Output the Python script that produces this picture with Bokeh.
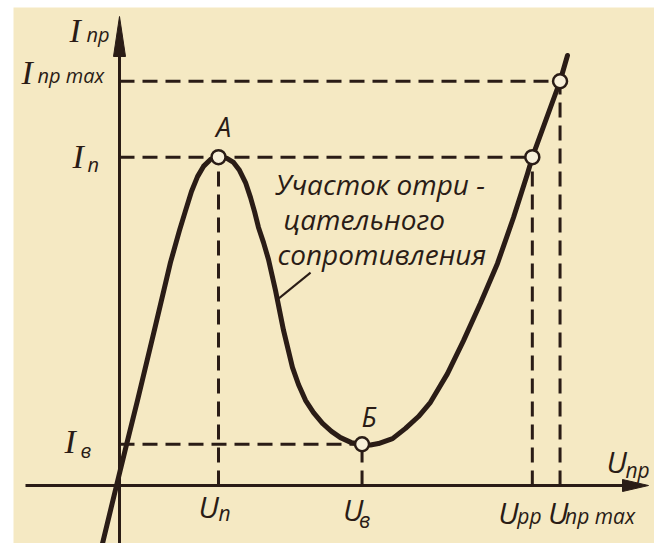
import numpy as np
from bokeh.plotting import figure
from bokeh.models import Range1d, ColumnDataSource
from bokeh.core.properties import value
from bokeh.embed import file_html
from bokeh.resources import INLINE

# Tunnel diode forward characteristic, arbitrary units
U_P = 1.0      # peak voltage U_п
U_V = 2.45     # valley voltage U_в
U_RR = 4.17    # U_рр
U_MAX = 4.45   # U_пр max
I_P = 0.995    # peak current I_п
I_V = 0.125    # valley current I_в
I_MAX = 1.225  # I_пр max

curve_u = [-0.172, -0.03, 0.061, 0.182, 0.364, 0.515, 0.606, 0.667, 0.727, 0.788,
           0.848, 0.919, 1.0, 1.081, 1.152, 1.212, 1.273, 1.323, 1.364, 1.404,
           1.455, 1.505, 1.576, 1.657, 1.747, 1.808, 1.879, 1.96, 2.051, 2.141,
           2.232, 2.343, 2.45, 2.535, 2.616, 2.758, 2.889, 3.02, 3.141, 3.313,
           3.475, 3.646, 3.818, 3.98, 4.121, 4.17, 4.45, 4.525]
curve_i = [-0.176, 0.0, 0.112, 0.258, 0.485, 0.676, 0.773, 0.833, 0.891, 0.936,
           0.967, 0.988, 0.995, 0.992, 0.979, 0.955, 0.918, 0.873, 0.83, 0.782,
           0.736, 0.685, 0.591, 0.47, 0.358, 0.306, 0.258, 0.221, 0.188, 0.164,
           0.145, 0.13, 0.125, 0.123, 0.127, 0.142, 0.173, 0.209, 0.252, 0.339,
           0.439, 0.552, 0.673, 0.812, 0.945, 0.995, 1.225, 1.303]

PAPER = "#f5e9c3"
INK = "#2a1c16"
SANS = value("Open Sans")
SERIF = value("Liberation Serif")

# screen scale: pixels per unit of U and of I, origin position in the window
PX_U, PX_I = 99.0, 330.0
OX, OY = 119.0, 485.0
W, H = 654, 543
LEFT, TOP = 13, 7

p = figure(width=W, height=H,
           x_range=Range1d(-(OX - LEFT) / PX_U, (W - OX) / PX_U),
           y_range=Range1d(-(H - OY) / PX_I, (OY - TOP) / PX_I),
           output_backend="svg", toolbar_location=None,
           x_axis_location=None, y_axis_location=None,
           min_border_left=LEFT, min_border_top=TOP,
           min_border_right=0, min_border_bottom=0,
           background_fill_color=PAPER, border_fill_color="white",
           outline_line_color=None)
p.grid.visible = False

# axes with arrow heads
Y_TIP = (OY - 16) / PX_I
X_TIP = (648 - OX) / PX_U
X_START = (25 - OX) / PX_U
Y_START = -(H - OY) / PX_I
HEAD_Y = 40 / PX_I
HEAD_X = 26 / PX_U
p.segment(x0=[0, X_START], y0=[Y_START, 0], x1=[0, X_TIP - HEAD_X * 0.5],
          y1=[Y_TIP - HEAD_Y * 0.5, 0], line_color=INK, line_width=3)
p.patch([0, -6 / PX_U, 6 / PX_U], [Y_TIP, Y_TIP - HEAD_Y, Y_TIP - HEAD_Y],
        fill_color=INK, line_color=INK, line_width=1)
p.patch([X_TIP, X_TIP - HEAD_X, X_TIP - HEAD_X], [0, 6 / PX_I, -6 / PX_I],
        fill_color=INK, line_color=INK, line_width=1)

# dashed projection lines
dash = ColumnDataSource(dict(
    x0=[0, 0, 0, U_P, U_V, U_RR, U_MAX],
    y0=[I_MAX, I_P, I_V, 0, 0, 0, 0],
    x1=[U_MAX, U_RR, U_V, U_P, U_V, U_RR, U_MAX],
    y1=[I_MAX, I_P, I_V, I_P, I_V, I_P, I_MAX],
))
p.segment(x0="x0", y0="y0", x1="x1", y1="y1", source=dash,
          line_color=INK, line_width=3, line_dash="15 8")

# characteristic curve
p.line(curve_u, curve_i, line_color=INK, line_width=5,
       line_join="round", line_cap="round")

# leader from the annotation to the falling branch
p.segment(x0=[1.93], y0=[0.645], x1=[1.61], y1=[0.567], line_color=INK, line_width=2)

# marked points
p.scatter([U_P, U_V, U_RR, U_MAX], [I_P, I_V, I_P, I_MAX], size=14,
          fill_color="#f8f0da", line_color=INK, line_width=2.5)


def put_labels(rows, font, main_size, sub_size):
    # rows: anchor x, anchor y, main, dx, dy, sub, sdx, sdy (pixel offsets)
    ax = [r[0] for r in rows]
    ay = [r[1] for r in rows]
    p.text(x=ax, y=ay, text=[r[2] for r in rows],
           x_offset=[r[3] for r in rows], y_offset=[r[4] for r in rows],
           text_font=font, text_font_style="italic", text_font_size=main_size,
           text_color=INK, text_baseline="alphabetic", text_align="left")
    p.text(x=ax, y=ay, text=[r[5] for r in rows],
           x_offset=[r[6] for r in rows], y_offset=[r[7] for r in rows],
           text_font=SANS, text_font_style="italic", text_font_size=sub_size,
           text_color=INK, text_baseline="alphabetic", text_align="left")


current_labels = [
    (0, Y_TIP, "I", -50, 14, "пр", -33, 18),
    (0, I_MAX, "I", -98, -9, "пр max", -82, -6),
    (0, I_P, "I", -47, -1, "п", -32, 7),
    (0, I_V, "I", -55, -3, "в", -39, 6),
]
voltage_labels = [
    (X_TIP, 0, "U", -42, -24, "пр", -23, -16),
    (U_P, 0, "U", -20, 21, "п", 0, 27),
    (U_V, 0, "U", -19, 24, "в", -3, 34),
    (U_RR, 0, "U", -34, 27, "рр", -15, 30),
    (U_MAX, 0, "U", -12, 27, "пр max", 5, 30),
]
put_labels(current_labels, SERIF, "34px", "20px")
put_labels(voltage_labels, SANS, "30px", "21px")

# point names
p.text(x=[U_P, U_V], y=[I_P, I_V], text=["A", "Б"], x_offset=[5, 7], y_offset=[-31, -28],
       text_font=SANS, text_font_style="italic", text_font_size="27px",
       text_color=INK, text_baseline="alphabetic", text_align="center")

# annotation of the negative resistance region
note_lines = ["Участок отри -", "цательного", "сопротивления"]
note_x = [1.576, 1.657, 1.596]
note_y = [0.915, 0.809, 0.703]
p.text(x=note_x, y=note_y, text=note_lines,
       text_font=SANS, text_font_style="italic", text_font_size="28px",
       text_color=INK, text_baseline="alphabetic", text_align="left")

open("out.html", "w").write(file_html(p, INLINE))
